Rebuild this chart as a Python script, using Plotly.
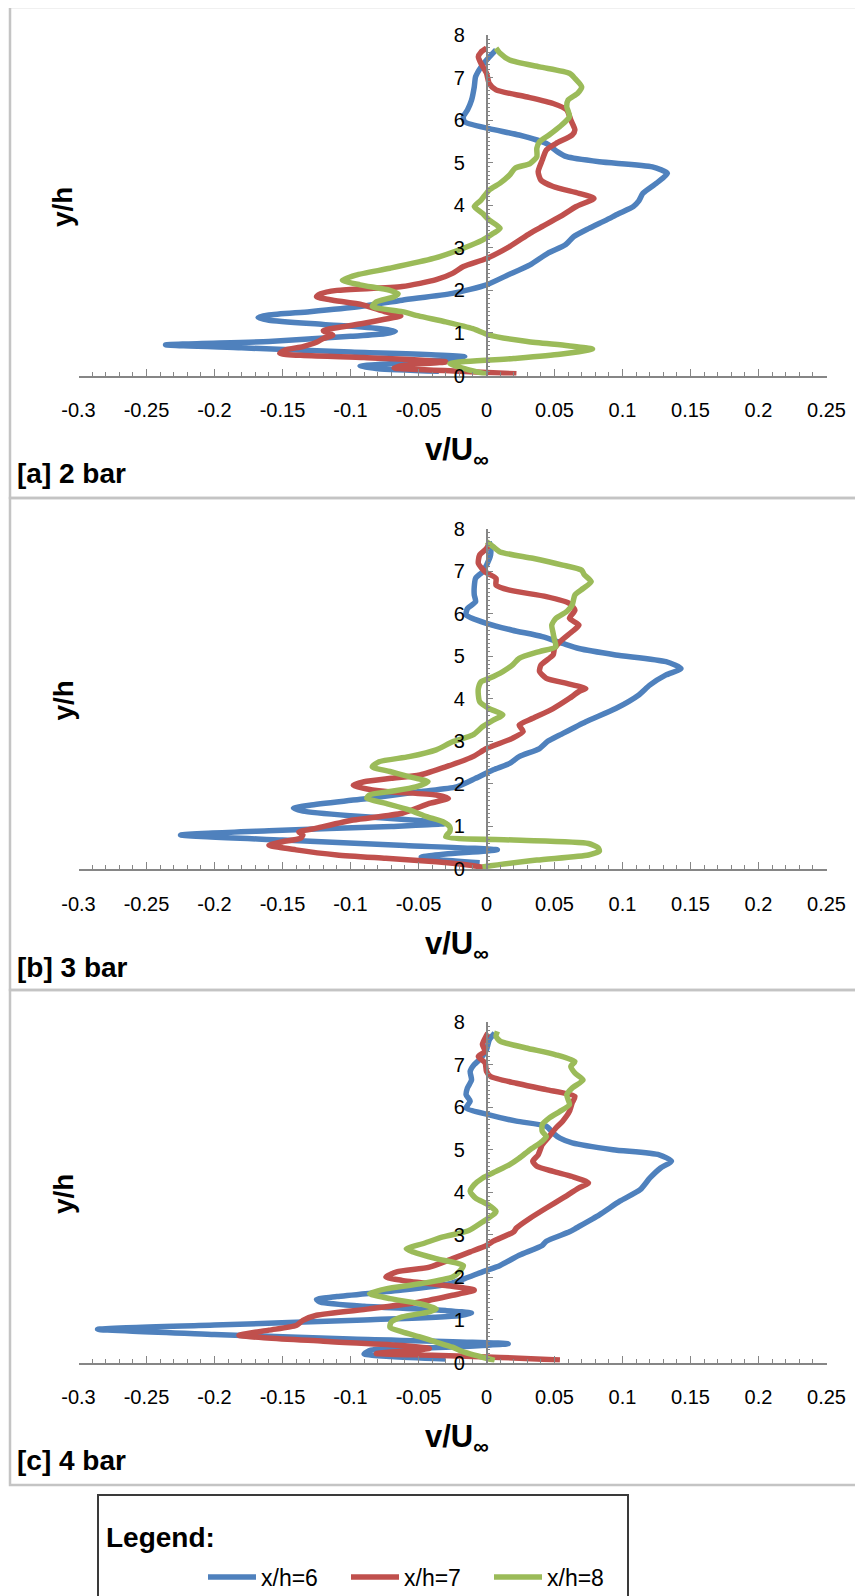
import plotly.graph_objects as go

W, H = 863, 1596
PAGE_MARGIN = 8                      # default body margin of the html page
FIG_W, FIG_H = W - PAGE_MARGIN, H - PAGE_MARGIN

# ---------------- data (v/U_inf as a function of y/h) ----------------
series_names = ["x/h=6", "x/h=7", "x/h=8"]
series_colors = ["#4F81BD", "#C0504D", "#9BBB59"]
panel_labels = ["[a] 2 bar", "[b] 3 bar", "[c] 4 bar"]

x_tick_vals = [-0.3, -0.25, -0.2, -0.15, -0.1, -0.05, 0, 0.05, 0.1, 0.15, 0.2, 0.25]
x_tick_text = ["-0.3", "-0.25", "-0.2", "-0.15", "-0.1", "-0.05", "0", "0.05", "0.1", "0.15", "0.2", "0.25"]
y_tick_vals = [0, 1, 2, 3, 4, 5, 6, 7, 8]
y_tick_text = ["0", "1", "2", "3", "4", "5", "6", "7", "8"]

# panel [a] 2 bar
y_a6 = [0.1, 0.16, 0.22, 0.3, 0.37, 0.44, 0.55, 0.65, 0.72, 0.8, 0.92, 0.98, 1.04, 1.1, 1.2, 1.3, 1.36, 1.42,
        1.5, 1.62, 1.77, 1.93, 2.13, 2.35, 2.6, 2.87, 3.07, 3.26, 3.45, 3.65, 3.8, 3.97, 4.1, 4.28, 4.52, 4.75,
        4.9, 5.02, 5.14, 5.26, 5.45, 5.65, 5.8, 5.96, 6.08, 6.24, 6.47, 6.78, 7.02, 7.25, 7.41, 7.65]
v_a6 = [-0.035, -0.08, -0.093, -0.06, -0.03, -0.016, -0.1, -0.18, -0.236, -0.16, -0.1, -0.075, -0.067, -0.078,
        -0.12, -0.16, -0.168, -0.16, -0.13, -0.093, -0.062, -0.025, 0.0, 0.015, 0.032, 0.045, 0.058, 0.064,
        0.075, 0.088, 0.097, 0.108, 0.112, 0.115, 0.125, 0.133, 0.122, 0.083, 0.059, 0.052, 0.044, 0.024, 0.002,
        -0.016, -0.017, -0.014, -0.011, -0.009, -0.008, -0.004, 0.0, 0.007]

y_a7 = [0.04, 0.1, 0.18, 0.24, 0.32, 0.42, 0.52, 0.6, 0.68, 0.78, 0.87, 0.95, 1.05, 1.22, 1.32, 1.4, 1.5, 1.66,
        1.78, 1.85, 1.92, 2.0, 2.09, 2.25, 2.4, 2.56, 2.75, 3.03, 3.34, 3.5, 3.73, 3.97, 4.16, 4.28, 4.44, 4.59,
        4.79, 5.06, 5.3, 5.45, 5.65, 5.77, 6.0, 6.24, 6.39, 6.55, 6.71, 6.86, 7.1, 7.33, 7.49, 7.6, 7.69]
v_a7 = [0.022, -0.02, -0.068, -0.06, -0.03, -0.09, -0.152, -0.148, -0.135, -0.125, -0.12, -0.113, -0.12, -0.091,
        -0.075, -0.063, -0.075, -0.091, -0.115, -0.125, -0.122, -0.11, -0.062, -0.037, -0.025, -0.017, 0.0, 0.017,
        0.032, 0.041, 0.054, 0.066, 0.079, 0.068, 0.049, 0.04, 0.038, 0.041, 0.044, 0.051, 0.063, 0.065, 0.062,
        0.059, 0.049, 0.029, 0.007, 0.002, 0.0, -0.004, -0.006, -0.004, 0.0]

y_a8 = [0.03, 0.15, 0.28, 0.4, 0.5, 0.62, 0.7, 0.8, 0.95, 1.1, 1.26, 1.4, 1.5, 1.62, 1.73, 1.85, 1.92, 2.0, 2.13,
        2.24, 2.36, 2.52, 2.75, 2.99, 3.18, 3.34, 3.46, 3.65, 3.81, 3.97, 4.12, 4.36, 4.52, 4.71, 4.87, 4.98,
        5.14, 5.34, 5.49, 5.65, 5.85, 6.08, 6.32, 6.47, 6.63, 6.78, 6.98, 7.1, 7.25, 7.41, 7.57, 7.69]
v_a8 = [0.0, -0.015, -0.027, 0.02, 0.054, 0.078, 0.06, 0.03, 0.002, -0.01, -0.03, -0.05, -0.062, -0.084, -0.081,
        -0.068, -0.065, -0.071, -0.093, -0.106, -0.096, -0.071, -0.039, -0.017, -0.003, 0.005, 0.01, 0.002,
        -0.003, -0.009, -0.004, 0.002, 0.01, 0.017, 0.021, 0.032, 0.037, 0.037, 0.039, 0.046, 0.054, 0.061,
        0.059, 0.06, 0.067, 0.07, 0.065, 0.061, 0.039, 0.017, 0.01, 0.007]

# panel [b] 3 bar
y_b6 = [0.15, 0.22, 0.28, 0.35, 0.45, 0.55, 0.68, 0.8, 0.9, 1.0, 1.07, 1.14, 1.25, 1.36, 1.43, 1.5, 1.66, 1.82,
        1.93, 2.13, 2.33, 2.48, 2.64, 2.83, 3.0, 3.15, 3.46, 3.77, 4.09, 4.32, 4.56, 4.71, 4.87, 5.03, 5.18, 5.3,
        5.46, 5.61, 5.77, 5.97, 6.12, 6.28, 6.44, 6.63, 6.83, 6.98, 7.14, 7.38, 7.57, 7.69]
v_b6 = [-0.005, -0.035, -0.048, -0.03, 0.008, -0.06, -0.15, -0.225, -0.16, -0.07, -0.03, -0.05, -0.1, -0.135,
        -0.142, -0.13, -0.086, -0.049, -0.022, -0.008, 0.005, 0.017, 0.024, 0.039, 0.045, 0.054, 0.073, 0.095,
        0.112, 0.12, 0.132, 0.143, 0.132, 0.095, 0.068, 0.056, 0.041, 0.019, 0.0, -0.015, -0.014, -0.008,
        -0.009, -0.009, -0.008, -0.003, 0.0, 0.003, 0.003, 0.002]

y_b7 = [0.03, 0.1, 0.17, 0.25, 0.33, 0.45, 0.56, 0.64, 0.72, 0.8, 0.87, 0.96, 1.15, 1.31, 1.54, 1.66, 1.74, 1.82,
        1.9, 1.97, 2.05, 2.13, 2.21, 2.4, 2.64, 2.83, 3.07, 3.23, 3.38, 3.54, 3.77, 4.01, 4.17, 4.24, 4.36, 4.48,
        4.64, 4.79, 5.03, 5.18, 5.34, 5.58, 5.73, 5.89, 6.08, 6.24, 6.4, 6.55, 6.67, 6.83, 6.98, 7.18, 7.38,
        7.53, 7.65]
v_b7 = [0.0, -0.015, -0.037, -0.074, -0.11, -0.14, -0.16, -0.15, -0.137, -0.135, -0.138, -0.125, -0.098, -0.062,
        -0.042, -0.028, -0.037, -0.074, -0.091, -0.098, -0.09, -0.07, -0.049, -0.03, -0.01, 0.0, 0.019, 0.027,
        0.024, 0.034, 0.049, 0.061, 0.068, 0.073, 0.059, 0.044, 0.039, 0.04, 0.049, 0.05, 0.054, 0.063, 0.068,
        0.061, 0.065, 0.061, 0.044, 0.017, 0.007, 0.007, -0.001, -0.006, -0.005, 0.0, 0.002]

y_b8 = [0.05, 0.21, 0.33, 0.42, 0.5, 0.6, 0.68, 0.76, 0.88, 0.99, 1.11, 1.23, 1.39, 1.54, 1.66, 1.74, 1.82, 1.93,
        2.05, 2.17, 2.29, 2.4, 2.52, 2.64, 2.8, 2.99, 3.15, 3.34, 3.5, 3.62, 3.77, 3.93, 4.09, 4.24, 4.4, 4.48,
        4.64, 4.79, 4.95, 5.11, 5.22, 5.38, 5.54, 5.73, 5.89, 6.05, 6.2, 6.44, 6.59, 6.75, 6.91, 7.02, 7.14,
        7.3, 7.45, 7.57, 7.69]
v_b8 = [-0.003, 0.037, 0.075, 0.083, 0.082, 0.075, 0.02, -0.03, -0.027, -0.027, -0.032, -0.044, -0.057, -0.074,
        -0.088, -0.086, -0.071, -0.052, -0.043, -0.057, -0.071, -0.084, -0.079, -0.057, -0.037, -0.025, -0.01,
        -0.003, 0.005, 0.012, 0.002, -0.005, -0.006, -0.006, -0.004, 0.002, 0.012, 0.019, 0.024, 0.039, 0.051,
        0.05, 0.049, 0.048, 0.051, 0.059, 0.063, 0.065, 0.071, 0.077, 0.072, 0.07, 0.056, 0.034, 0.01, 0.005, 0.0]

# panel [c] 4 bar
y_c6 = [0.08, 0.14, 0.2, 0.29, 0.36, 0.44, 0.55, 0.66, 0.78, 0.88, 1.0, 1.1, 1.16, 1.22, 1.32, 1.42, 1.48, 1.55,
        1.7, 1.85, 1.97, 2.13, 2.28, 2.52, 2.75, 2.85, 3.07, 3.16, 3.47, 3.79, 4.06, 4.33, 4.57, 4.73, 4.88, 5.0,
        5.16, 5.27, 5.39, 5.55, 5.67, 5.82, 5.98, 6.14, 6.29, 6.45, 6.64, 6.84, 7.0, 7.15, 7.35, 7.58, 7.74]
v_c6 = [-0.03, -0.07, -0.09, -0.085, -0.03, 0.016, -0.1, -0.2, -0.286, -0.2, -0.09, -0.02, -0.011, -0.03, -0.09,
        -0.122, -0.125, -0.11, -0.062, -0.027, -0.016, -0.003, 0.01, 0.024, 0.041, 0.044, 0.061, 0.066, 0.083,
        0.098, 0.113, 0.12, 0.128, 0.136, 0.127, 0.093, 0.063, 0.054, 0.049, 0.044, 0.022, 0.002, -0.015,
        -0.012, -0.015, -0.014, -0.011, -0.012, -0.009, -0.004, 0.0, 0.002, 0.006]

y_c7 = [0.06, 0.12, 0.17, 0.21, 0.27, 0.33, 0.4, 0.5, 0.64, 0.76, 0.87, 0.99, 1.11, 1.26, 1.42, 1.58, 1.7, 1.81,
        1.93, 2.01, 2.13, 2.24, 2.44, 2.6, 2.75, 2.85, 3.07, 3.16, 3.39, 3.63, 3.86, 4.1, 4.22, 4.37, 4.49, 4.61,
        4.73, 4.88, 5.12, 5.31, 5.51, 5.67, 5.9, 6.1, 6.25, 6.41, 6.56, 6.72, 6.84, 7.04, 7.19, 7.31, 7.47, 7.62,
        7.74]
v_c7 = [0.054, 0.01, -0.04, -0.081, -0.06, -0.042, -0.062, -0.12, -0.182, -0.16, -0.14, -0.135, -0.125, -0.086,
        -0.049, -0.025, -0.009, -0.03, -0.062, -0.074, -0.066, -0.042, -0.025, -0.012, 0.0, 0.005, 0.02, 0.022,
        0.032, 0.044, 0.056, 0.068, 0.075, 0.063, 0.049, 0.037, 0.034, 0.038, 0.041, 0.046, 0.051, 0.056, 0.061,
        0.063, 0.065, 0.044, 0.022, 0.003, 0.0, -0.001, -0.006, -0.001, -0.003, -0.001, 0.001]

y_c8 = [0.05, 0.25, 0.36, 0.48, 0.6, 0.72, 0.83, 0.95, 1.07, 1.19, 1.26, 1.38, 1.5, 1.62, 1.73, 1.85, 2.01, 2.17,
        2.28, 2.44, 2.6, 2.67, 2.79, 2.95, 3.1, 3.3, 3.5, 3.55, 3.71, 3.86, 4.02, 4.18, 4.33, 4.49, 4.65, 4.8,
        5.0, 5.2, 5.31, 5.43, 5.59, 5.74, 5.9, 6.06, 6.29, 6.45, 6.64, 6.8, 6.96, 7.07, 7.23, 7.39, 7.55, 7.66,
        7.78]
v_c8 = [0.006, -0.017, -0.025, -0.037, -0.049, -0.062, -0.071, -0.07, -0.062, -0.042, -0.037, -0.049, -0.071,
        -0.086, -0.074, -0.049, -0.025, -0.019, -0.017, -0.037, -0.054, -0.059, -0.047, -0.032, -0.013, -0.003,
        0.006, 0.007, 0.001, -0.008, -0.012, -0.009, -0.003, 0.007, 0.017, 0.024, 0.032, 0.041, 0.044, 0.041,
        0.041, 0.046, 0.054, 0.061, 0.059, 0.063, 0.071, 0.065, 0.062, 0.065, 0.051, 0.029, 0.01, 0.007, 0.008]

panels = [
    [(y_a6, v_a6), (y_a7, v_a7), (y_a8, v_a8)],
    [(y_b6, v_b6), (y_b7, v_b7), (y_b8, v_b8)],
    [(y_c6, v_c6), (y_c7, v_c7), (y_c8, v_c8)],
]

# ---------------- layout geometry (pixels of the page) ----------------
FONT = "Liberation Sans, Arial, sans-serif"
AXIS_GREY = "#868686"
X_LEFT, X_RIGHT = 78.5, 826.5      # x = -0.3 ... 0.25
Y_ZERO, Y_TOP = 375.5, 35.0        # y = 0 ... 8 for panel [a]
PANEL_OFFSETS = [0.0, 493.5, 987.0]
X_RANGE = [-0.3, 0.25]
Y_RANGE = [0, 8]


def px(x):
    return (x - PAGE_MARGIN) / FIG_W


def py(y):
    return 1 - (y - PAGE_MARGIN) / FIG_H


zero_pos = px(X_LEFT + (0 - X_RANGE[0]) / (X_RANGE[1] - X_RANGE[0]) * (X_RIGHT - X_LEFT))

fig = go.Figure()
layout = dict(
    width=FIG_W, height=FIG_H, autosize=False,
    margin=dict(l=0, r=0, t=0, b=0, pad=0, autoexpand=False),
    paper_bgcolor="white", plot_bgcolor="white",
    font=dict(family=FONT, color="#000000"),
    showlegend=True,
)
annotations = []
shapes = []

for i, (off, curves) in enumerate(zip(PANEL_OFFSETS, panels)):
    n = "" if i == 0 else str(i + 1)
    for k, (yy, vv) in enumerate(curves):
        fig.add_trace(go.Scatter(
            x=vv, y=yy, mode="lines", name=series_names[k],
            line=dict(color=series_colors[k], width=5.5, shape="spline", smoothing=0.6),
            xaxis="x" + n, yaxis="y" + n, showlegend=(i == 0), hoverinfo="skip",
        ))
    layout["xaxis" + n] = dict(
        domain=[px(X_LEFT), px(X_RIGHT)], range=X_RANGE, anchor="y" + n,
        showline=True, linecolor=AXIS_GREY, linewidth=1.5,
        ticks="inside", ticklen=7, tickwidth=1.2, tickcolor=AXIS_GREY,
        tickmode="array", tickvals=x_tick_vals, ticktext=x_tick_text,
        tickfont=dict(size=20, family=FONT, color="#000000"), ticklabelstandoff=16,
        showgrid=False, zeroline=False, fixedrange=True, automargin=False,
        minor=dict(tickmode="linear", tick0=0, dtick=0.01, ticks="inside", ticklen=4,
                   tickwidth=1, tickcolor=AXIS_GREY, showgrid=False),
    )
    layout["yaxis" + n] = dict(
        domain=[py(Y_ZERO + off), py(Y_TOP + off)], range=Y_RANGE,
        anchor="free", position=zero_pos, side="left",
        showline=True, linecolor=AXIS_GREY, linewidth=1.5,
        ticks="inside", ticklen=6, tickwidth=1.2, tickcolor=AXIS_GREY,
        tickmode="array", tickvals=y_tick_vals, ticktext=y_tick_text,
        tickfont=dict(size=20, family=FONT, color="#000000"), ticklabelstandoff=17,
        showgrid=False, zeroline=False, fixedrange=True, automargin=False,
        minor=dict(tickmode="linear", tick0=0, dtick=0.1, ticks="inside", ticklen=3,
                   tickwidth=1, tickcolor=AXIS_GREY, showgrid=False),
    )
    # panel frame
    top = 7 if i == 0 else [498, 990][i - 1]
    bottom = [498, 990, 1485][i]
    shapes.append(dict(type="rect", xref="paper", yref="paper", x0=px(10), x1=px(880),
                       y0=py(bottom), y1=py(top), line=dict(color="#C4C4C4", width=2.5),
                       fillcolor="rgba(0,0,0,0)", layer="below"))
    annotations.append(dict(text="<b>" + panel_labels[i] + "</b>", xref="paper", yref="paper",
                            x=px(15), y=py(473.5 + off), xanchor="left", yanchor="middle",
                            showarrow=False, font=dict(size=28, family=FONT, color="#000000")))
    annotations.append(dict(text="<b>v/U<sub>∞</sub></b>", xref="paper", yref="paper",
                            x=px(457), y=py(452 + off), xanchor="center", yanchor="middle",
                            showarrow=False, font=dict(size=31, family=FONT, color="#000000")))
    annotations.append(dict(text="<b>y/h</b>", xref="paper", yref="paper", textangle=-90,
                            x=px(63), y=py(207 + off), xanchor="center", yanchor="middle",
                            showarrow=False, font=dict(size=28, family=FONT, color="#000000")))

# legend frame and title
shapes.append(dict(type="rect", xref="paper", yref="paper", x0=px(98), x1=px(628),
                   y0=py(1620), y1=py(1495), line=dict(color="#3a3a3a", width=2),
                   fillcolor="rgba(0,0,0,0)"))
annotations.append(dict(text="<b>Legend:</b>", xref="paper", yref="paper", x=px(104), y=py(1537),
                        xanchor="left", yanchor="middle", showarrow=False,
                        font=dict(size=28, family=FONT, color="#000000")))

layout["legend"] = dict(
    orientation="h", x=px(203), y=py(1577), xanchor="left", yanchor="middle",
    bgcolor="rgba(0,0,0,0)", borderwidth=0, font=dict(size=23, family=FONT, color="#000000"),
    itemwidth=48, entrywidth=80, entrywidthmode="pixels", tracegroupgap=0,
)
layout["annotations"] = annotations
layout["shapes"] = shapes
fig.update_layout(**layout)

fig.write_html("out.html")
